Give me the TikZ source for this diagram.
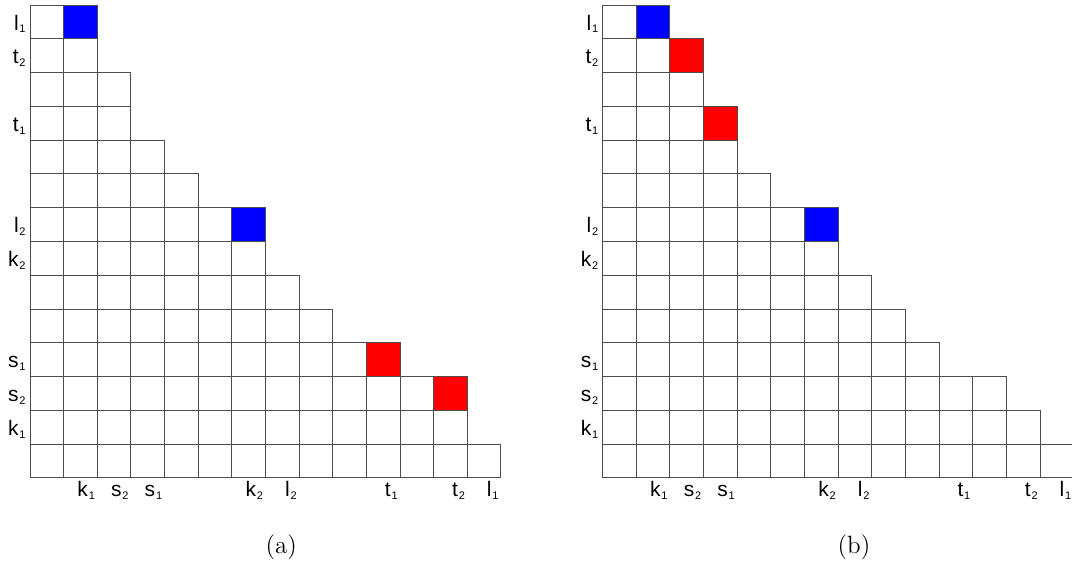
\documentclass[tikz,border=0pt]{standalone}
\usepackage{fontspec}
\newfontfamily\labelfont{Liberation Sans}
\usepackage{tikz}
\tikzset{
  cell/.style    ={draw=black!70,line width=.5pt},
  bluecell/.style={draw=black!70,fill=blue,line width=.5pt},
  redcell/.style ={draw=black!70,fill=red,line width=.5pt},
  rowlbl/.style  ={font=\labelfont\fontsize{10.5}{12}\selectfont,
                   anchor=base east,inner xsep=2pt},
  collbl/.style  ={font=\labelfont\fontsize{10.5}{12}\selectfont,
                   anchor=base east,inner xsep=1pt},
  caption/.style ={font=\fontsize{12.5}{14}\selectfont},
}
\newcommand\sublbl[2]{#1\kern.4pt\raisebox{-1.4pt}{\fontsize{5.5}{6}\selectfont #2}}

\begin{document}
\begin{tikzpicture}[x=16.82pt,y=-16.89pt]
\path[fill=white,use as bounding box] (0pt,0pt) rectangle (536pt,-281pt);
% panel (a)
\begin{scope}[shift={(15pt,-2.5pt)}]
\foreach \r/\n in {0/2,1/2,2/3,3/3,4/4,5/5,6/7,7/7,8/8,9/9,10/11,11/13,12/13,13/14}
  \foreach \c in {1,...,\n}
    \draw[cell] (\c-1,\r) rectangle (\c,\r+1);
\draw[bluecell] (1,0) rectangle (2,1);
\draw[bluecell] (6,6) rectangle (7,7);
\draw[redcell] (10,10) rectangle (11,11);
\draw[redcell] (12,11) rectangle (13,12);
% labels
\foreach \r/\t/\s in {0/l/1,1/t/2,3/t/1,6/l/2,7/k/2,10/s/1,11/s/2,12/k/1}
  \node[rowlbl] (arow\r) at (0,\r+.745) {\sublbl{\t}{\s}};
\foreach \c/\t/\s in {1/k/1,2/s/2,3/s/1,6/k/2,7/l/2,10/t/1,12/t/2,13/l/1}
  \node[collbl] (acol\c) at (\c+1,14.56) {\sublbl{\t}{\s}};
\node[caption] (capa) at (7.47,16.06) {(a)};
\end{scope}
% panel (b)
\begin{scope}[shift={(301.35pt,-2.5pt)}]
\foreach \r/\n in {0/2,1/3,2/3,3/4,4/4,5/5,6/7,7/7,8/8,9/9,10/10,11/12,12/13,13/14}
  \foreach \c in {1,...,\n}
    \draw[cell] (\c-1,\r) rectangle (\c,\r+1);
\draw[bluecell] (1,0) rectangle (2,1);
\draw[bluecell] (6,6) rectangle (7,7);
\draw[redcell] (2,1) rectangle (3,2);
\draw[redcell] (3,3) rectangle (4,4);
% labels
\foreach \r/\t/\s in {0/l/1,1/t/2,3/t/1,6/l/2,7/k/2,10/s/1,11/s/2,12/k/1}
  \node[rowlbl] (brow\r) at (0,\r+.745) {\sublbl{\t}{\s}};
\foreach \c/\t/\s in {1/k/1,2/s/2,3/s/1,6/k/2,7/l/2,10/t/1,12/t/2,13/l/1}
  \node[collbl] (bcol\c) at (\c+1,14.56) {\sublbl{\t}{\s}};
\node[caption] (capb) at (7.47,16.06) {(b)};
\end{scope}
\end{tikzpicture}
\end{document}
